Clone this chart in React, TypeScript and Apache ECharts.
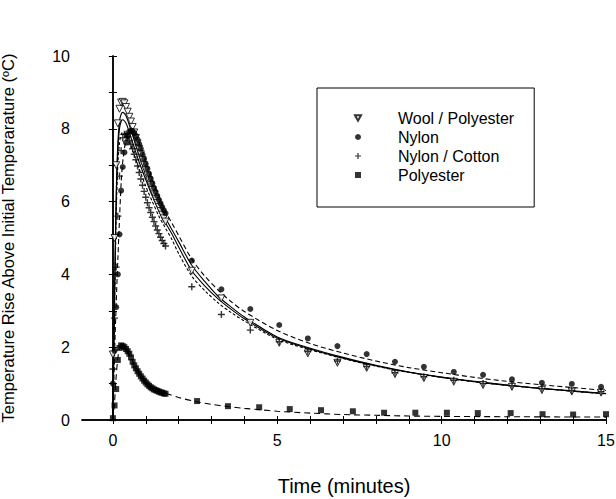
import React, { useEffect, useRef } from "react";
import * as echarts from "echarts";

// ---- data ----
const denseTimes = [0, 0.05, 0.1, 0.15, 0.2, 0.25, 0.3, 0.35, 0.4, 0.45, 0.5, 0.55, 0.6, 0.65, 0.7, 0.75, 0.8, 0.85, 0.9, 0.95, 1.0, 1.05, 1.1, 1.15, 1.2, 1.25, 1.3, 1.35, 1.4, 1.45, 1.5, 1.55, 1.6];
const woolDense = [1.8, 5.0, 7.0, 8.15, 8.55, 8.72, 8.74, 8.7, 8.6, 8.47, 8.33, 8.2, 8.05, 7.9, 7.75, 7.6, 7.45, 7.3, 7.15, 7.0, 6.86, 6.72, 6.58, 6.45, 6.32, 6.2, 6.08, 5.96, 5.85, 5.74, 5.64, 5.54, 5.45];
const nylonDense = [1.0, 1.9, 3.1, 4.0, 5.1, 6.3, 6.95, 7.35, 7.62, 7.82, 7.92, 7.95, 7.93, 7.88, 7.8, 7.7, 7.58, 7.45, 7.3, 7.17, 7.03, 6.9, 6.76, 6.63, 6.5, 6.38, 6.27, 6.16, 6.05, 5.95, 5.85, 5.76, 5.68];
const cottonDense = [1.4, 2.8, 4.2, 5.6, 6.7, 7.4, 7.75, 7.85, 7.85, 7.78, 7.68, 7.57, 7.45, 7.3, 7.15, 6.98, 6.8, 6.62, 6.45, 6.28, 6.12, 5.97, 5.83, 5.7, 5.57, 5.45, 5.33, 5.22, 5.12, 5.02, 4.93, 4.85, 4.78];
const polyDense = [0.05, 0.4, 0.85, 1.65, 1.98, 2.05, 2.03, 2.0, 1.95, 1.89, 1.82, 1.72, 1.6, 1.5, 1.42, 1.34, 1.27, 1.2, 1.14, 1.08, 1.03, 0.98, 0.94, 0.9, 0.87, 0.84, 0.82, 0.8, 0.78, 0.76, 0.75, 0.73, 0.72];

const sparseTimes = [2.4, 3.3, 4.18, 5.06, 5.93, 6.83, 7.72, 8.58, 9.46, 10.37, 11.26, 12.14, 13.05, 13.96, 14.85];
const woolSparse = [4.1, 3.34, 2.67, 2.12, 1.83, 1.57, 1.43, 1.26, 1.15, 1.05, 0.96, 0.91, 0.82, 0.78, 0.75];
const nylonSparse = [4.38, 3.59, 3.05, 2.61, 2.24, 2.03, 1.81, 1.6, 1.46, 1.32, 1.24, 1.12, 1.02, 0.99, 0.91];
const cottonSparse = [3.66, 2.9, 2.47, 2.15, 1.88, 1.62, 1.47, 1.3, 1.19, 1.09, 1.0, 0.94, 0.86, 0.81, 0.78];
const polySparseTimes = [2.56, 3.5, 4.45, 5.38, 6.33, 7.3, 8.25, 9.2, 10.16, 11.1, 12.1, 13.07, 14.0, 15.0];
const polySparse = [0.52, 0.38, 0.35, 0.3, 0.27, 0.24, 0.2, 0.2, 0.2, 0.19, 0.19, 0.16, 0.15, 0.16];

// fitted curves
const fitTimes = [0, 0.05, 0.1, 0.15, 0.2, 0.25, 0.3, 0.4, 0.5, 0.6, 0.8, 1.0, 1.2, 1.4, 1.6, 1.8, 2.0, 2.4, 2.8, 3.2, 3.6, 4.0, 5, 6, 7, 8, 9, 10, 11, 12, 13, 14, 15];
const fitNylon = [0, 1.8, 3.2, 4.4, 5.5, 6.5, 7.1, 7.7, 7.9, 7.9, 7.6, 7.1, 6.6, 6.15, 5.73, 5.4, 5.07, 4.42, 3.95, 3.57, 3.25, 2.98, 2.46, 2.1, 1.84, 1.62, 1.44, 1.3, 1.17, 1.06, 0.97, 0.89, 0.81];
const fitWoolA = [0, 3.5, 6.2, 7.6, 8.2, 8.4, 8.45, 8.35, 8.1, 7.82, 7.25, 6.75, 6.3, 5.9, 5.55, 5.22, 4.9, 4.25, 3.8, 3.4, 3.1, 2.83, 2.28, 1.97, 1.72, 1.5, 1.32, 1.18, 1.06, 0.96, 0.87, 0.8, 0.73];
const fitWoolB = [0, 3.2, 5.9, 7.4, 8.0, 8.2, 8.25, 8.15, 7.9, 7.62, 7.08, 6.6, 6.15, 5.75, 5.42, 5.1, 4.75, 4.1, 3.68, 3.33, 3.04, 2.78, 2.25, 1.95, 1.7, 1.49, 1.31, 1.17, 1.05, 0.95, 0.87, 0.79, 0.72];
const fitCotton = [0, 3.0, 5.6, 7.0, 7.6, 7.85, 7.9, 7.85, 7.65, 7.4, 6.9, 6.42, 6.0, 5.6, 5.27, 4.95, 4.57, 3.95, 3.55, 3.22, 2.95, 2.72, 2.22, 1.93, 1.69, 1.48, 1.31, 1.17, 1.05, 0.95, 0.87, 0.79, 0.72];
const polyFitTimes = [0, 0.05, 0.1, 0.15, 0.2, 0.25, 0.3, 0.4, 0.5, 0.6, 0.8, 1.0, 1.2, 1.4, 1.6, 2.0, 2.5, 3.0, 3.5, 4.0, 4.5, 5, 6, 7, 8, 9, 10, 12, 15];
const polyFit = [0, 0.5, 1.2, 1.7, 1.95, 2.0, 1.98, 1.9, 1.78, 1.62, 1.3, 1.07, 0.92, 0.82, 0.74, 0.62, 0.51, 0.43, 0.37, 0.32, 0.28, 0.24, 0.19, 0.15, 0.13, 0.11, 0.1, 0.09, 0.08];

const xTicks = [0, 1, 2, 3, 4, 5, 6, 7, 8, 9, 10, 11, 12, 13, 14, 15];
const xLabels = [0, 5, 10, 15];
const yTicks = [0, 1, 2, 3, 4, 5, 6, 7, 8, 9, 10];
const yLabels = [0, 2, 4, 6, 8, 10];

const seriesNames = ["Wool / Polyester", "Nylon", "Nylon / Cotton", "Polyester"];

const FONT = "'Liberation Sans', Arial, Helvetica, sans-serif";
const PLUS = "path://M4,0h2v4h4v2h-4v4h-2v-4h-4v-2h4z";
const DOWN_TRIANGLE = "path://M0,0L10,0L5,9Z";

const pairs = (xs: number[], ys: number[]) => xs.map((x, i) => [x, ys[i]]);

export default function App() {
  const ref = useRef<HTMLDivElement>(null);
  useEffect(() => {
    document.body.style.margin = "0";
    if (!ref.current) return;
    const chart = echarts.init(ref.current, null, { renderer: "svg" });
    const axisLine = { show: true, lineStyle: { color: "#000", width: 1.5 } };
    const lineSeries = (data: number[][], type: any, width = 1.1) => ({
      type: "line",
      data,
      showSymbol: false,
      symbol: "none",
      smooth: 0.3,
      silent: true,
      lineStyle: { color: "#000", width, type },
      z: 1,
    });
    const xBase = {
      type: "value",
      min: -0.94,
      max: 15,
      splitLine: { show: false },
      axisLine,
    };
    const yBase = {
      type: "value",
      min: 0,
      max: 10,
      splitLine: { show: false },
      axisLine,
    };
    chart.setOption({
      animation: false,
      backgroundColor: "#fff",
      grid: { left: 82, right: 10, top: 56, bottom: 79, containLabel: false, outerBoundsMode: "none" },
      xAxis: [
        {
          ...xBase,
          position: "bottom",
          axisTick: { show: true, inside: true, length: 4, customValues: xTicks, lineStyle: { color: "#000" } },
          axisLabel: { customValues: xLabels, margin: 12, fontSize: 16, color: "#000", fontFamily: FONT },
          name: "Time (minutes)",
          nameLocation: "middle",
          nameGap: 56,
          nameTextStyle: { fontSize: 20, color: "#000", fontFamily: FONT },
        },
        {
          ...xBase,
          position: "top",
          axisTick: { show: true, inside: true, length: 4, customValues: xTicks, lineStyle: { color: "#000" } },
          axisLabel: { show: false },
        },
      ],
      yAxis: [
        {
          ...yBase,
          position: "left",
          axisTick: { show: true, inside: true, length: 4, customValues: yTicks, lineStyle: { color: "#000" } },
          axisLabel: { customValues: yLabels, margin: 12, fontSize: 16, color: "#000", fontFamily: FONT },
          name: "Temperature Rise Above Initial Temperarature (ºC)",
          nameLocation: "middle",
          nameGap: 66,
          nameTextStyle: { fontSize: 16.5, color: "#000", fontFamily: FONT },
        },
        {
          ...yBase,
          position: "right",
          axisTick: { show: true, inside: true, length: 4, customValues: yTicks, lineStyle: { color: "#000" } },
          axisLabel: { show: false },
        },
      ],
      legend: {
        orient: "vertical",
        left: 317,
        top: 88,
        data: [
          { name: seriesNames[0], icon: DOWN_TRIANGLE },
          { name: seriesNames[1] },
          { name: seriesNames[2] },
          { name: seriesNames[3] },
        ],
        itemWidth: 6,
        itemHeight: 6,
        itemGap: 3,
        symbolRotate: 0,
        padding: [22, 20, 24, 37],
        borderColor: "#000",
        borderWidth: 1,
        selectedMode: false,
        textStyle: { fontSize: 16, color: "#000", fontFamily: FONT, padding: [0, 0, 0, 32] },
      },
      series: [
        lineSeries(pairs(fitTimes, fitCotton), [3, 2]),
        lineSeries(pairs(fitTimes, fitWoolB), "solid"),
        lineSeries(pairs(fitTimes, fitWoolA), "solid"),
        lineSeries(pairs(fitTimes, fitNylon), [5, 3]),
        lineSeries(pairs(polyFitTimes, polyFit), [6, 4]),
        {
          name: seriesNames[0],
          type: "scatter",
          symbol: "triangle",
          symbolRotate: 180,
          symbolSize: 7,
          itemStyle: { color: "#fff", borderColor: "#000", borderWidth: 1 },
          data: pairs(denseTimes, woolDense).concat(pairs(sparseTimes, woolSparse)),
          z: 2,
        },
        {
          name: seriesNames[2],
          type: "scatter",
          symbol: PLUS,
          symbolSize: 7,
          itemStyle: { color: "#000" },
          data: pairs(denseTimes, cottonDense).concat(pairs(sparseTimes, cottonSparse)),
          z: 3,
        },
        {
          name: seriesNames[1],
          type: "scatter",
          symbol: "circle",
          symbolSize: 6,
          itemStyle: { color: "#000" },
          data: pairs(denseTimes, nylonDense).concat(pairs(sparseTimes, nylonSparse)),
          z: 4,
        },
        {
          name: seriesNames[3],
          type: "scatter",
          symbol: "rect",
          symbolSize: 6,
          itemStyle: { color: "#000" },
          data: pairs(denseTimes, polyDense).concat(pairs(polySparseTimes, polySparse)),
          z: 4,
        },
      ],
    });
    return () => chart.dispose();
  }, []);
  return <div ref={ref} style={{ width: 616, height: 499 }} />;
}
